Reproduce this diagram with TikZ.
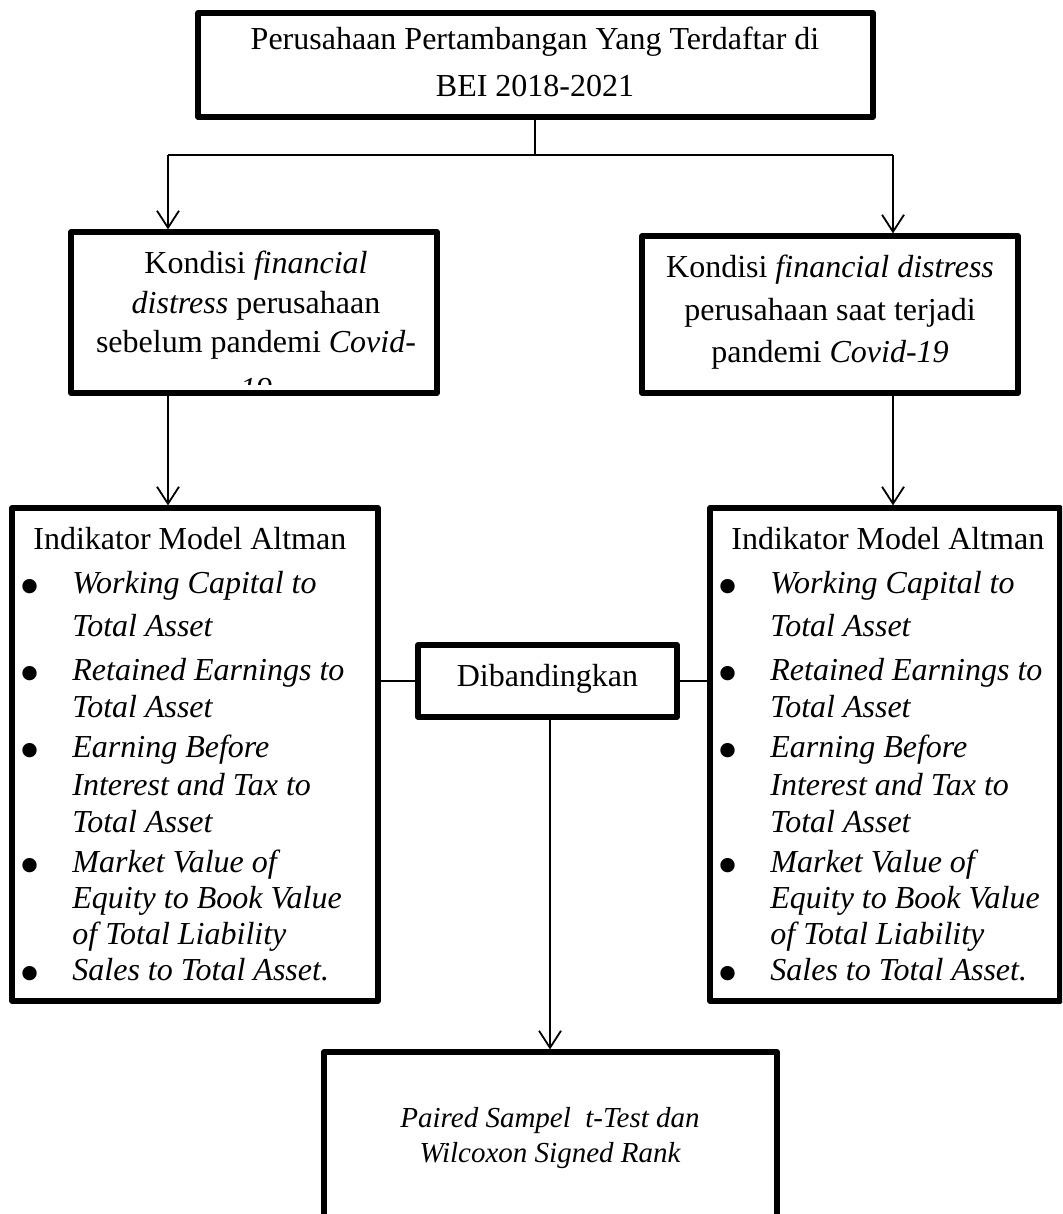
\documentclass[tikz,border=0pt]{standalone}
\usepackage{fontspec}
\setmainfont{Liberation Serif}
\usetikzlibrary{arrows.meta,fit}
\tikzset{
  boxsty/.style={draw=black, line width=2.6pt, inner sep=0pt, line join=round},
  conn/.style={draw=black, line width=0.9pt},
  arr/.style={conn, -{Straight Barb[length=8.5pt,width=11pt,line width=0.9pt]}},
  txt/.style={anchor=base, inner sep=0pt, font=\fontsize{16}{19}\selectfont},
  txtl/.style={anchor=base west, inner sep=0pt, font=\fontsize{16}{19}\selectfont},
  itl/.style={anchor=base west, inner sep=0pt, font=\fontsize{16}{19}\selectfont\itshape},
  bul/.style={anchor=base, inner sep=0pt, font=\fontsize{30}{32}\selectfont},
  txtb/.style={anchor=base, inner sep=0pt, font=\fontsize{14.5}{17}\selectfont\itshape},
}
\newcommand\altmanlist[2]{%
  \node[txtl] (#1h) at ({#2+21},549) {Indikator Model Altman};
  \node[bul] (#1b1) at ({#2+18},606) {•};
  \node[itl] (#1a) at ({#2+60},593) {Working Capital to};
  \node[itl] (#1b) at ({#2+60},636) {Total Asset};
  \node[bul] (#1b2) at ({#2+18},693) {•};
  \node[itl] (#1c) at ({#2+60},680) {Retained Earnings to};
  \node[itl] (#1d) at ({#2+60},717) {Total Asset};
  \node[bul] (#1b3) at ({#2+18},770) {•};
  \node[itl] (#1e) at ({#2+60},757) {Earning Before};
  \node[itl] (#1f) at ({#2+60},795) {Interest and Tax to};
  \node[itl] (#1g) at ({#2+60},832) {Total Asset};
  \node[bul] (#1b4) at ({#2+18},885) {•};
  \node[itl] (#1i) at ({#2+60},872) {Market Value of};
  \node[itl] (#1j) at ({#2+60},908) {Equity to Book Value};
  \node[itl] (#1k) at ({#2+60},944) {of Total Liability};
  \node[bul] (#1b5) at ({#2+18},993) {•};
  \node[itl] (#1l) at ({#2+60},980) {Sales to Total Asset.};
}
\begin{document}
\begin{tikzpicture}[x=0.5pt,y=-0.5pt]
\useasboundingbox (0,0) rectangle (1062,1214);
\clip (0,0) rectangle (1062,1214);
\fill[white] (0,0) rectangle (1062,1214);

% boxes
\node[boxsty, fit={(198,13) (873,117)}] (top) {};
\node[boxsty, fit={(71,232) (437,393)}] (ml) {};
\node[boxsty, fit={(642,236) (1018,393)}] (mr) {};
\node[boxsty, fit={(12,508) (378,1001)}] (bl) {};
\node[boxsty, fit={(710,508) (1060,1001)}] (br) {};
\node[boxsty, fit={(418,645) (677,717)}] (cmp) {};
\node[boxsty, fit={(324,1052) (777,1240)}] (bot) {};

% texts
\node[txt] (t1) at (535,50) {Perusahaan Pertambangan Yang Terdaftar di};
\node[txt] (t2) at (535,97) {BEI 2018-2021};

\node[txt] (ml1) at (256,273) {Kondisi \textit{financial}};
\node[txt] (ml2) at (256,313) {\textit{distress} perusahaan};
\node[txt] (ml3) at (256,352) {sebelum pandemi \textit{Covid-}};
\begin{scope}
  \clip (71,232) rectangle (437,384);
  \node[txt] (ml4) at (256,399) {\textit{19}};
\end{scope}

\node[txt] (mr1) at (830,278) {Kondisi \textit{financial distress}};
\node[txt] (mr2) at (830,320) {perusahaan saat terjadi};
\node[txt] (mr3) at (830,362) {pandemi \textit{Covid-19}};

\altmanlist{L}{12}
\altmanlist{R}{710}

\node[txt] (cmpt) at (547.5,686) {Dibandingkan};

\node[txtb] (b1) at (550,1127) {Paired Sampel\ \ t-Test dan};
\node[txtb] (b2) at (550,1162) {Wilcoxon Signed Rank};

% connectors
\coordinate (jn) at (535,155);
\coordinate (jl) at (168,155);
\coordinate (jr) at (893,155);
\coordinate (cx) at (550,717);
\draw[conn] (top.south -| jn) -- (jn);
\draw[conn] (jl) -- (jr);
\draw[arr] (jl) -- (jl |- ml.north);
\draw[arr] (jr) -- (jr |- mr.north);
\draw[arr] (ml.south -| jl) -- (jl |- bl.north);
\draw[arr] (mr.south -| jr) -- (jr |- br.north);
\draw[conn] (bl.east |- cmp.west) -- (cmp.west);
\draw[conn] (cmp.east) -- (br.west |- cmp.east);
\draw[arr] (cmp.south -| cx) -- (cx |- bot.north);
\end{tikzpicture}
\end{document}
